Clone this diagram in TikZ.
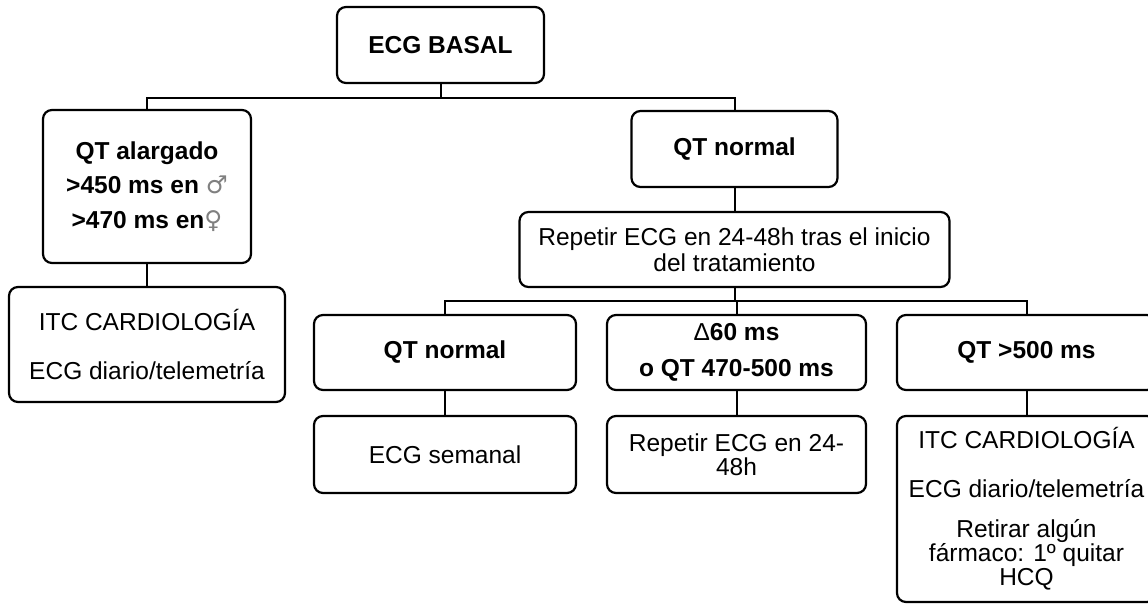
\documentclass[tikz,border=0pt]{standalone}
\usepackage{fontspec}
\setmainfont{Liberation Sans}
\newfontfamily\symfont{DejaVu Sans}
\newcommand{\gsym}[1]{{\symfont\mdseries\color{black!50}#1}}
\begin{document}
\begin{tikzpicture}[x=1pt,y=-1pt,
  box/.style={draw, line width=2.2pt, rounded corners=9pt, align=center, inner sep=0pt,
    font=\fontsize{24.5}{24}\selectfont},
  boldbox/.style={box, font=\fontsize{24.5}{24}\selectfont\bfseries},
  link/.style={line width=2pt}]
\clip (0,0) rectangle (1148,603);
\fill[white] (0,0) rectangle (1148,603);

% top
\node[boldbox, minimum width=207pt, minimum height=76pt] (basal) at (440.5,45) {ECG BASAL};
\node[boldbox, minimum width=208pt, minimum height=153pt] (alarg) at (147,186.5)
  {QT alargado\\[10.5pt] >450 ms en \gsym{♂}\\[10.5pt] >470 ms en\gsym{♀}};
\node[box, minimum width=276pt, minimum height=115pt] (itcL) at (147,344.5)
  {ITC CARDIOLOGÍA\\[25pt] ECG diario/telemetría};
\node[boldbox, minimum width=206pt, minimum height=76pt] (qtn) at (734.5,149) {QT normal};
\node[box, minimum width=430pt, minimum height=75pt] (rep) at (734.5,249.5)
  {Repetir ECG en 24-48h tras el inicio\\[2pt] del tratamiento};

% middle row
\node[boldbox, minimum width=262pt, minimum height=75pt] (qtn2) at (445,352.5) {QT normal};
\node[boldbox, minimum width=259pt, minimum height=75pt] (d60) at (736.5,352.5)
  {{\mdseries Δ}60 ms\\[12pt] o QT 470-500 ms};
\node[boldbox, minimum width=259pt, minimum height=75pt] (qt500) at (1026.5,352.5) {QT >500 ms};

% bottom row
\node[box, minimum width=262pt, minimum height=77pt] (sem) at (445,454.5) {ECG semanal};
\node[box, minimum width=259pt, minimum height=77pt] (rep2) at (736.5,454.5)
  {Repetir ECG en 24-\\ 48h};
\node[box, minimum width=259pt, minimum height=186pt] (itcR) at (1026.5,509)
  {ITC CARDIOLOGÍA\\[25pt] ECG diario/telemetría\\[16pt] Retirar algún\\ fármaco: 1º quitar\\ HCQ};

% connectors
\draw[link] (basal.south) -- ++(0,14) -| (alarg.north);
\draw[link] (basal.south) -- ++(0,14) -| (qtn.north);
\draw[link] (alarg.south) -- (itcL.north);
\draw[link] (qtn.south) -- (rep.north);
\draw[link] (rep.south) -- ++(0,13) -| (qtn2.north);
\draw[link] (rep.south) -- ++(0,13) -| (d60.north);
\draw[link] (rep.south) -- ++(0,13) -| (qt500.north);
\draw[link] (qtn2.south) -- (sem.north);
\draw[link] (d60.south) -- (rep2.north);
\draw[link] (qt500.south) -- (itcR.north);
\end{tikzpicture}
\end{document}
